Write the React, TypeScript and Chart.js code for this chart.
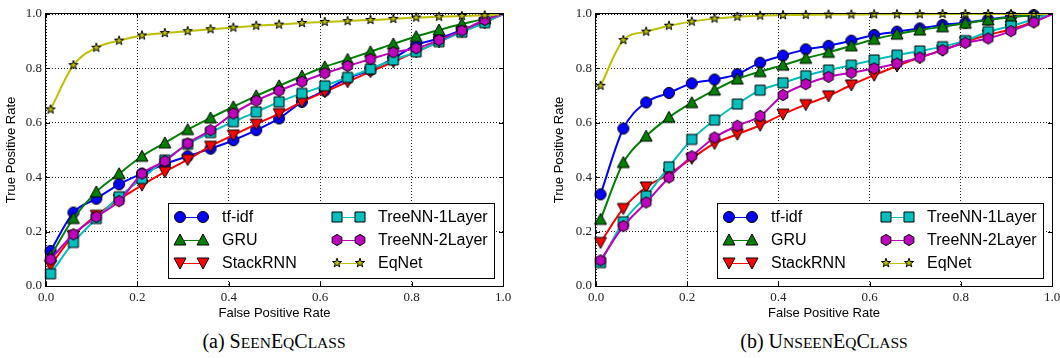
import React, { useEffect, useRef } from 'react';
import { Chart, registerables } from 'chart.js';

Chart.register(...registerables);

// ---------- data ----------
const FPR = [0.01, 0.06, 0.11, 0.16, 0.21, 0.26, 0.31, 0.36, 0.41, 0.46, 0.51, 0.56, 0.61, 0.66, 0.71, 0.76, 0.81, 0.86, 0.91, 0.96, 1.0];
const AXIS_TICKS = [0, 0.2, 0.4, 0.6, 0.8, 1.0];
const SERIES_NAMES = ['tf-idf', 'GRU', 'StackRNN', 'TreeNN-1Layer', 'TreeNN-2Layer', 'EqNet'];

const SEEN_TFIDF = [0.129, 0.27, 0.321, 0.374, 0.413, 0.448, 0.477, 0.505, 0.536, 0.573, 0.616, 0.677, 0.718, 0.763, 0.794, 0.837, 0.886, 0.91, 0.941, 0.972, 1.0];
const SEEN_GRU = [0.11, 0.248, 0.346, 0.413, 0.477, 0.526, 0.575, 0.618, 0.659, 0.699, 0.736, 0.772, 0.806, 0.833, 0.861, 0.89, 0.917, 0.941, 0.963, 0.982, 1.0];
const SEEN_STACKRNN = [0.076, 0.186, 0.26, 0.318, 0.371, 0.42, 0.465, 0.514, 0.555, 0.595, 0.634, 0.677, 0.714, 0.751, 0.788, 0.824, 0.861, 0.898, 0.935, 0.968, 1.0];
const SEEN_TREENN1 = [0.045, 0.16, 0.248, 0.328, 0.395, 0.463, 0.521, 0.564, 0.604, 0.64, 0.677, 0.708, 0.736, 0.767, 0.798, 0.831, 0.861, 0.898, 0.933, 0.968, 1.0];
const SEEN_TREENN2 = [0.098, 0.19, 0.254, 0.312, 0.413, 0.459, 0.524, 0.573, 0.634, 0.681, 0.718, 0.751, 0.782, 0.809, 0.834, 0.859, 0.874, 0.904, 0.939, 0.978, 1.0];
const SEEN_EQNET = [0.649, 0.812, 0.876, 0.902, 0.921, 0.93, 0.937, 0.944, 0.95, 0.957, 0.961, 0.967, 0.971, 0.974, 0.978, 0.982, 0.987, 0.99, 0.993, 0.995, 1.0];

const UNSEEN_TFIDF = [0.337, 0.579, 0.675, 0.71, 0.745, 0.759, 0.779, 0.821, 0.847, 0.87, 0.883, 0.902, 0.923, 0.935, 0.947, 0.96, 0.968, 0.98, 0.99, 0.996, 1.0];
const UNSEEN_GRU = [0.245, 0.454, 0.551, 0.62, 0.674, 0.72, 0.761, 0.788, 0.812, 0.837, 0.859, 0.883, 0.907, 0.926, 0.941, 0.953, 0.966, 0.978, 0.988, 0.996, 1.0];
const UNSEEN_STACKRNN = [0.16, 0.285, 0.364, 0.411, 0.469, 0.524, 0.558, 0.591, 0.632, 0.667, 0.699, 0.739, 0.775, 0.809, 0.84, 0.867, 0.898, 0.923, 0.944, 0.972, 1.0];
const UNSEEN_TREENN1 = [0.086, 0.236, 0.331, 0.438, 0.539, 0.61, 0.669, 0.72, 0.747, 0.773, 0.794, 0.812, 0.831, 0.849, 0.864, 0.88, 0.902, 0.935, 0.956, 0.98, 1.0];
const UNSEEN_TREENN2 = [0.094, 0.22, 0.307, 0.399, 0.477, 0.546, 0.589, 0.625, 0.702, 0.742, 0.769, 0.784, 0.8, 0.818, 0.84, 0.867, 0.894, 0.91, 0.937, 0.969, 1.0];
const UNSEEN_EQNET = [0.736, 0.904, 0.935, 0.957, 0.972, 0.983, 0.99, 0.994, 0.996, 0.997, 0.998, 0.998, 0.999, 0.999, 0.999, 1.0, 1.0, 1.0, 1.0, 1.0, 1.0];

const SEEN_SERIES = [SEEN_TFIDF, SEEN_GRU, SEEN_STACKRNN, SEEN_TREENN1, SEEN_TREENN2, SEEN_EQNET];
const UNSEEN_SERIES = [UNSEEN_TFIDF, UNSEEN_GRU, UNSEEN_STACKRNN, UNSEEN_TREENN1, UNSEEN_TREENN2, UNSEEN_EQNET];

// ---------- styles ----------
type Shape = 'circle' | 'triangle' | 'triangleDown' | 'square' | 'hexagon' | 'star';
const SERIES_COLORS = ['#0000ff', '#008000', '#ff0000', '#00bfbf', '#bf00bf', '#bfbf00'];
const SERIES_SHAPES: Shape[] = ['circle', 'triangle', 'triangleDown', 'square', 'hexagon', 'star'];

function makeMarker(shape: Shape, fill: string): HTMLCanvasElement {
  const size = 16;
  const c = document.createElement('canvas');
  c.width = size;
  c.height = size;
  const g = c.getContext('2d')!;
  const cx = size / 2;
  const cy = size / 2;
  g.beginPath();
  if (shape === 'circle') {
    g.arc(cx, cy, 5.5, 0, Math.PI * 2);
  } else if (shape === 'triangle') {
    g.moveTo(cx, cy - 6);
    g.lineTo(cx + 6, cy + 5);
    g.lineTo(cx - 6, cy + 5);
    g.closePath();
  } else if (shape === 'triangleDown') {
    g.moveTo(cx, cy + 6);
    g.lineTo(cx + 6, cy - 5);
    g.lineTo(cx - 6, cy - 5);
    g.closePath();
  } else if (shape === 'square') {
    g.rect(cx - 5, cy - 5, 10, 10);
  } else if (shape === 'hexagon') {
    for (let i = 0; i < 6; i++) {
      const a = -Math.PI / 2 + (i * Math.PI) / 3;
      const px = cx + 5.6 * Math.cos(a);
      const py = cy + 5.6 * Math.sin(a);
      if (i === 0) g.moveTo(px, py);
      else g.lineTo(px, py);
    }
    g.closePath();
  } else {
    for (let i = 0; i < 10; i++) {
      const a = -Math.PI / 2 + (i * Math.PI) / 5;
      const r = i % 2 === 0 ? 4.8 : 1.9;
      const px = cx + r * Math.cos(a);
      const py = cy + r * Math.sin(a);
      if (i === 0) g.moveTo(px, py);
      else g.lineTo(px, py);
    }
    g.closePath();
  }
  g.fillStyle = fill;
  g.fill();
  g.lineWidth = 1;
  g.strokeStyle = '#000';
  g.stroke();
  return c;
}

interface PanelProps {
  left: number;
  yAxisWidth: number;
  rightPad: number;
  yTitlePad: number;
  series: number[][];
}

const CANVAS_W = 530;
const CANVAS_H = 325;

function RocPanel({ left, yAxisWidth, rightPad, yTitlePad, series }: PanelProps) {
  const ref = useRef<HTMLCanvasElement | null>(null);

  useEffect(() => {
    if (!ref.current) return;
    const markers = SERIES_SHAPES.map((s, i) => makeMarker(s, SERIES_COLORS[i]));

    const framePlugin = {
      id: 'frameTicks',
      afterDatasetsDraw(chart: any) {
        const { ctx, chartArea } = chart;
        const { left: l, right: r, top: t, bottom: b } = chartArea;
        const xs = chart.scales.x;
        const ys = chart.scales.y;
        ctx.save();
        ctx.strokeStyle = '#000';
        ctx.lineWidth = 1;
        ctx.beginPath();
        AXIS_TICKS.forEach((v) => {
          const px = Math.round(xs.getPixelForValue(v)) + 0.5;
          ctx.moveTo(px, b);
          ctx.lineTo(px, b - 4);
          ctx.moveTo(px, t);
          ctx.lineTo(px, t + 4);
          const py = Math.round(ys.getPixelForValue(v)) + 0.5;
          ctx.moveTo(l, py);
          ctx.lineTo(l + 4, py);
          ctx.moveTo(r, py);
          ctx.lineTo(r - 4, py);
        });
        ctx.stroke();
        ctx.strokeRect(Math.round(l) - 0.5, Math.round(t) - 0.5, Math.round(r - l) + 1, Math.round(b - t) + 1);
        ctx.restore();
      },
      afterDraw(chart: any) {
        const { ctx, chartArea } = chart;
        const w = 326;
        const h = 75;
        const bx = Math.round(chartArea.right - 9 - w);
        const by = Math.round(chartArea.bottom - 8 - h);
        ctx.save();
        ctx.fillStyle = '#fff';
        ctx.fillRect(bx, by, w, h);
        ctx.strokeStyle = '#000';
        ctx.lineWidth = 1;
        ctx.strokeRect(bx + 0.5, by + 0.5, w, h);
        ctx.font = '16px "Liberation Sans", Arial, sans-serif';
        ctx.textBaseline = 'middle';
        ctx.textAlign = 'left';
        SERIES_NAMES.forEach((name, i) => {
          const col = Math.floor(i / 3);
          const row = i % 3;
          const x1 = bx + (col ? 169 : 12);
          const x2 = x1 + 23;
          const tx = bx + (col ? 210 : 54);
          const y = by + 14 + row * 23;
          ctx.strokeStyle = SERIES_COLORS[i];
          ctx.lineWidth = 1;
          ctx.beginPath();
          ctx.moveTo(x1, y + 0.5);
          ctx.lineTo(x2, y + 0.5);
          ctx.stroke();
          const m = markers[i];
          ctx.drawImage(m, x1 - m.width / 2, y - m.height / 2);
          ctx.drawImage(m, x2 - m.width / 2, y - m.height / 2);
          ctx.fillStyle = '#000';
          ctx.fillText(name, tx, y + 1);
        });
        ctx.restore();
      },
    };

    const datasets = series.map((vals, i) => ({
      label: SERIES_NAMES[i],
      data: FPR.map((x, j) => ({ x, y: vals[j] })),
      borderColor: SERIES_COLORS[i],
      backgroundColor: SERIES_COLORS[i],
      borderWidth: 2,
      pointStyle: markers[i],
      pointRadius: vals.map((_, j) => (j === vals.length - 1 ? 0 : 6)),
      pointHoverRadius: 0,
      cubicInterpolationMode: 'monotone' as const,
      fill: false,
      clip: false as any,
      order: SERIES_NAMES.length - i,
    }));

    const tickFont = { family: '"Liberation Serif", "Times New Roman", serif', size: 13 };
    const titleFont = { family: '"Liberation Sans", Arial, sans-serif', size: 13 };

    const chart = new Chart(ref.current, {
      type: 'line',
      data: { datasets },
      options: {
        animation: false,
        responsive: false,
        devicePixelRatio: 1,
        events: [],
        layout: { padding: { left: 0, right: rightPad, top: 14, bottom: 0 } },
        plugins: { legend: { display: false }, tooltip: { enabled: false } },
        scales: {
          x: {
            type: 'linear',
            min: 0,
            max: 1,
            afterBuildTicks: (s: any) => {
              s.ticks = AXIS_TICKS.map((v) => ({ value: v }));
            },
            afterFit: (s: any) => {
              s.height = 39;
            },
            ticks: {
              callback: (v: any) => Number(v).toFixed(1),
              font: tickFont,
              color: '#222',
              padding: 4,
              maxRotation: 0,
              autoSkip: false,
            },
            grid: { color: 'rgba(0,0,0,0.85)', lineWidth: 1, drawTicks: false },
            border: { display: false, dash: [1, 2] },
            title: {
              display: true,
              text: 'False Positive Rate',
              font: titleFont,
              color: '#000',
              padding: { top: 0, bottom: 4 },
            },
          },
          y: {
            type: 'linear',
            min: 0,
            max: 1,
            afterBuildTicks: (s: any) => {
              s.ticks = AXIS_TICKS.map((v) => ({ value: v }));
            },
            afterFit: (s: any) => {
              s.width = yAxisWidth;
            },
            ticks: {
              callback: (v: any) => Number(v).toFixed(1),
              font: tickFont,
              color: '#222',
              padding: 4,
              autoSkip: false,
            },
            grid: { color: 'rgba(0,0,0,0.85)', lineWidth: 1, drawTicks: false },
            border: { display: false, dash: [1, 2] },
            title: {
              display: true,
              text: 'True Positive Rate',
              font: titleFont,
              color: '#000',
              padding: { top: yTitlePad, bottom: 0 },
            },
          },
        },
      } as any,
      plugins: [framePlugin],
    });
    return () => chart.destroy();
  }, []);

  return (
    <canvas
      ref={ref}
      width={CANVAS_W}
      height={CANVAS_H}
      style={{ position: 'absolute', left, top: 0, width: CANVAS_W, height: CANVAS_H }}
    />
  );
}

const SC: React.CSSProperties = { fontSize: '15.5px' };

export default function App() {
  const captionStyle: React.CSSProperties = {
    position: 'absolute',
    top: 331,
    width: 400,
    textAlign: 'center',
    fontFamily: '"Liberation Serif", "Times New Roman", serif',
    fontSize: '20px',
    lineHeight: '20px',
    color: '#000',
    whiteSpace: 'nowrap',
  };
  return (
    <div
      style={{
        position: 'fixed',
        left: 0,
        top: 0,
        width: 1060,
        height: 358,
        overflow: 'hidden',
        background: '#fff',
      }}
    >
      <RocPanel left={0} yAxisWidth={46} rightPad={27} yTitlePad={4} series={SEEN_SERIES} />
      <RocPanel left={540} yAxisWidth={56} rightPad={18} yTitlePad={12} series={UNSEEN_SERIES} />
      <div style={{ ...captionStyle, left: 274 - 200 }}>
        (a) S<span style={SC}>EEN</span>E<span style={SC}>Q</span>C<span style={SC}>LASS</span>
      </div>
      <div style={{ ...captionStyle, left: 824 - 200 }}>
        (b) U<span style={SC}>NSEEN</span>E<span style={SC}>Q</span>C<span style={SC}>LASS</span>
      </div>
    </div>
  );
}
